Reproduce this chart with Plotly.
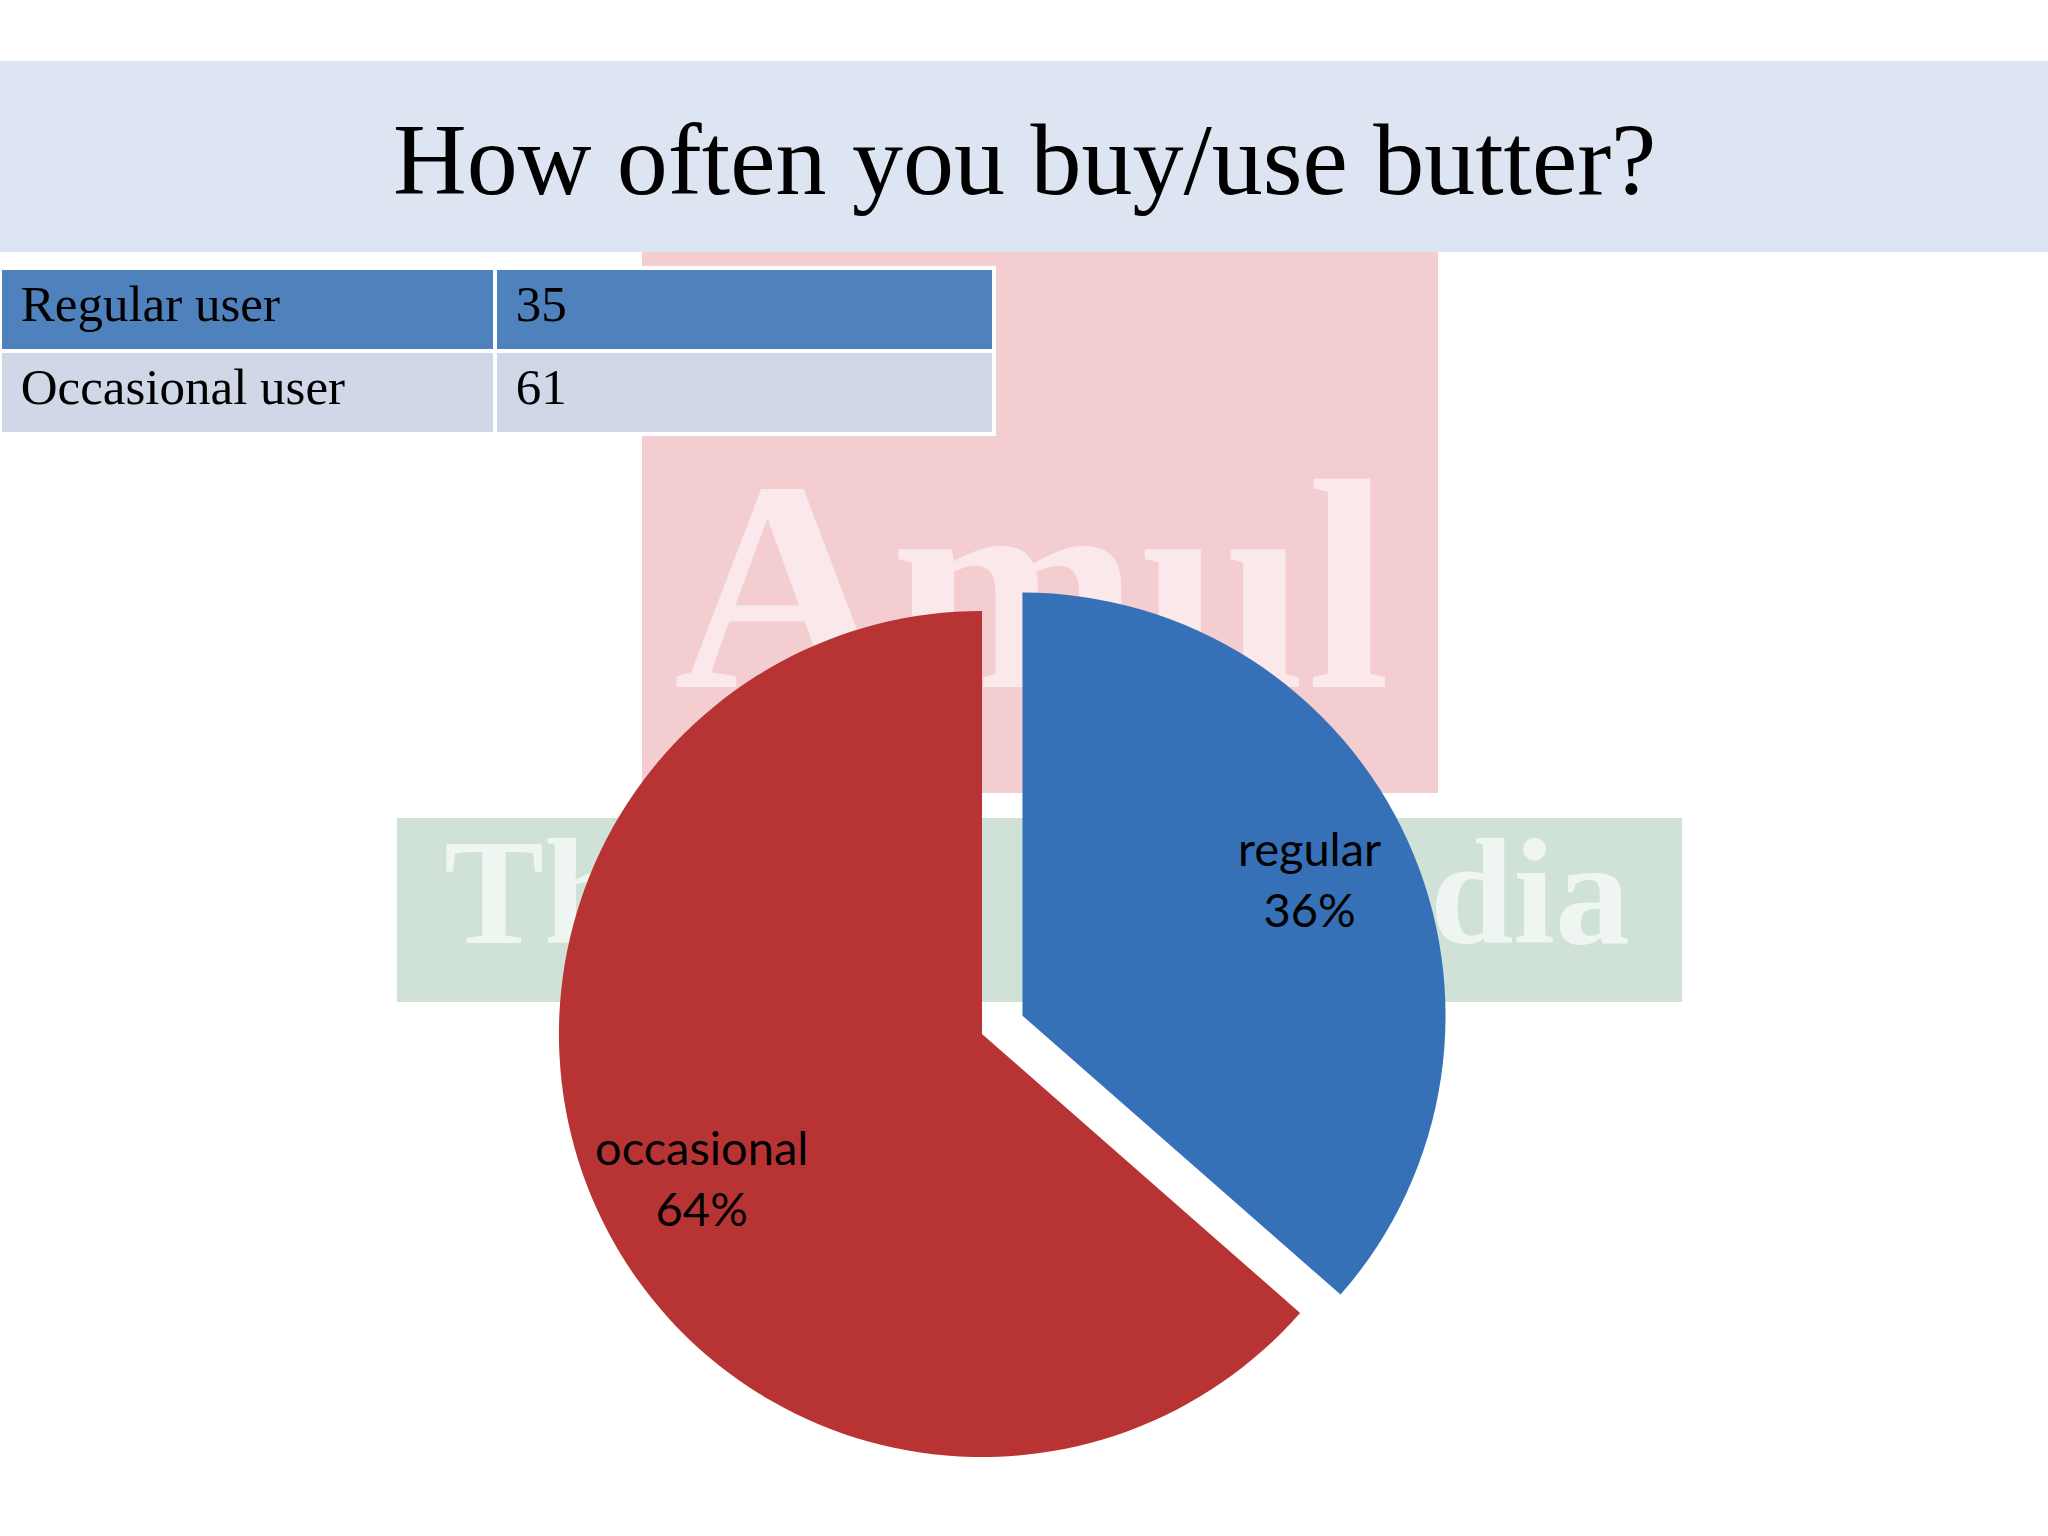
import plotly.graph_objects as go

# ---- data ----
title_text = "How often you buy/use butter?"
table_labels = ["Regular user", "Occasional user"]
table_values = [35, 61]
pie_labels = ["regular", "occasional"]
pie_values = [35, 61]
pie_colors = ["#3670b7", "#b83434"]
table_row_colors = ["#4f81bd", "#d0d8e8"]
watermark_texts = ["Amul", "Th", "dia"]

W, H = 2048, 1536

def px(x):
    return x / W

def py(y):
    return 1 - y / H

def cell_text(s):
    # small spacer first line pushes the text down so it sits centred in the row
    return ("<span style='font-size:14px'>\u00a0</span><br>"
            "<span style='font-size:51px'>\u00a0" + str(s) + "</span>")

fig = go.Figure()

# hidden cartesian axes used for the faint background watermark text
fig.add_trace(go.Scatter(
    x=[1032, 444, 1630], y=[612, 905, 905], mode="text",
    text=watermark_texts,
    textposition=["middle center", "middle right", "middle left"],
    textfont=dict(family="Liberation Serif", size=[300, 150, 150],
                  color=["rgba(255,255,255,0.55)", "rgba(244,249,246,0.85)",
                         "rgba(244,249,246,0.85)"],
                  weight="bold"),
    hoverinfo="skip", showlegend=False,
))

# table
fig.add_trace(go.Table(
    domain=dict(x=[0, px(994)], y=[py(437), py(252)]),
    columnwidth=[494, 498],
    header=dict(values=[], height=0, line=dict(width=0),
                fill=dict(color="rgba(0,0,0,0)")),
    cells=dict(
        values=[[cell_text(s) for s in table_labels],
                [cell_text(v) for v in table_values]],
        fill=dict(color=[table_row_colors, table_row_colors]),
        line=dict(color="white", width=4),
        align="left",
        height=83,
        font=dict(family="Liberation Serif", size=20, color="black"),
    ),
))

# pie
total = sum(pie_values)
fig.add_trace(go.Pie(
    labels=pie_labels, values=pie_values,
    marker=dict(colors=pie_colors, line=dict(width=0)),
    sort=False, direction="clockwise", rotation=0,
    pull=[0.105, 0],
    textinfo="none", hoverinfo="label+percent",
    showlegend=False,
    domain=dict(x=[px(982 - 467.5), px(982 + 467.5)],
                y=[py(1034 + 467.5), py(1034 - 467.5)]),
))

shapes = [
    # title band
    dict(type="rect", xref="paper", yref="paper", x0=0, x1=1, y0=py(252), y1=py(61),
         fillcolor="#dce5f1", line=dict(width=0), layer="below"),
    # faint watermark blocks
    dict(type="rect", xref="paper", yref="paper", x0=px(642), x1=px(1438), y0=py(793), y1=py(252),
         fillcolor="#f3cdd0", line=dict(width=0), layer="below"),
    dict(type="rect", xref="paper", yref="paper", x0=px(397), x1=px(1682), y0=py(1002), y1=py(818),
         fillcolor="#d0e2d8", line=dict(width=0), layer="below"),
]

annotations = [
    dict(text=title_text, xref="paper", yref="paper", x=0.5, y=py(160),
         xanchor="center", yanchor="middle", showarrow=False,
         font=dict(family="Liberation Serif", size=102, color="black")),
]

label_pos = {"regular": (1309, 878), "occasional": (701, 1177)}
for lab, val in zip(pie_labels, pie_values):
    pct = round(val / total * 100)
    cx, cy = label_pos[lab]
    annotations.append(dict(
        text=f"{lab}<br>{pct}%", xref="paper", yref="paper", x=px(cx), y=py(cy),
        xanchor="center", yanchor="middle", showarrow=False, align="center",
        font=dict(family="Lato", size=47, color="black")))

fig.update_layout(
    width=W, height=H,
    margin=dict(l=0, r=0, t=0, b=0),
    paper_bgcolor="white", plot_bgcolor="rgba(0,0,0,0)",
    xaxis=dict(range=[0, W], visible=False, domain=[0, 1], fixedrange=True),
    yaxis=dict(range=[H, 0], visible=False, domain=[0, 1], fixedrange=True),
    shapes=shapes, annotations=annotations,
)

fig.write_html("out.html", config={"displayModeBar": False},
               post_script="document.body.style.margin='0';")
